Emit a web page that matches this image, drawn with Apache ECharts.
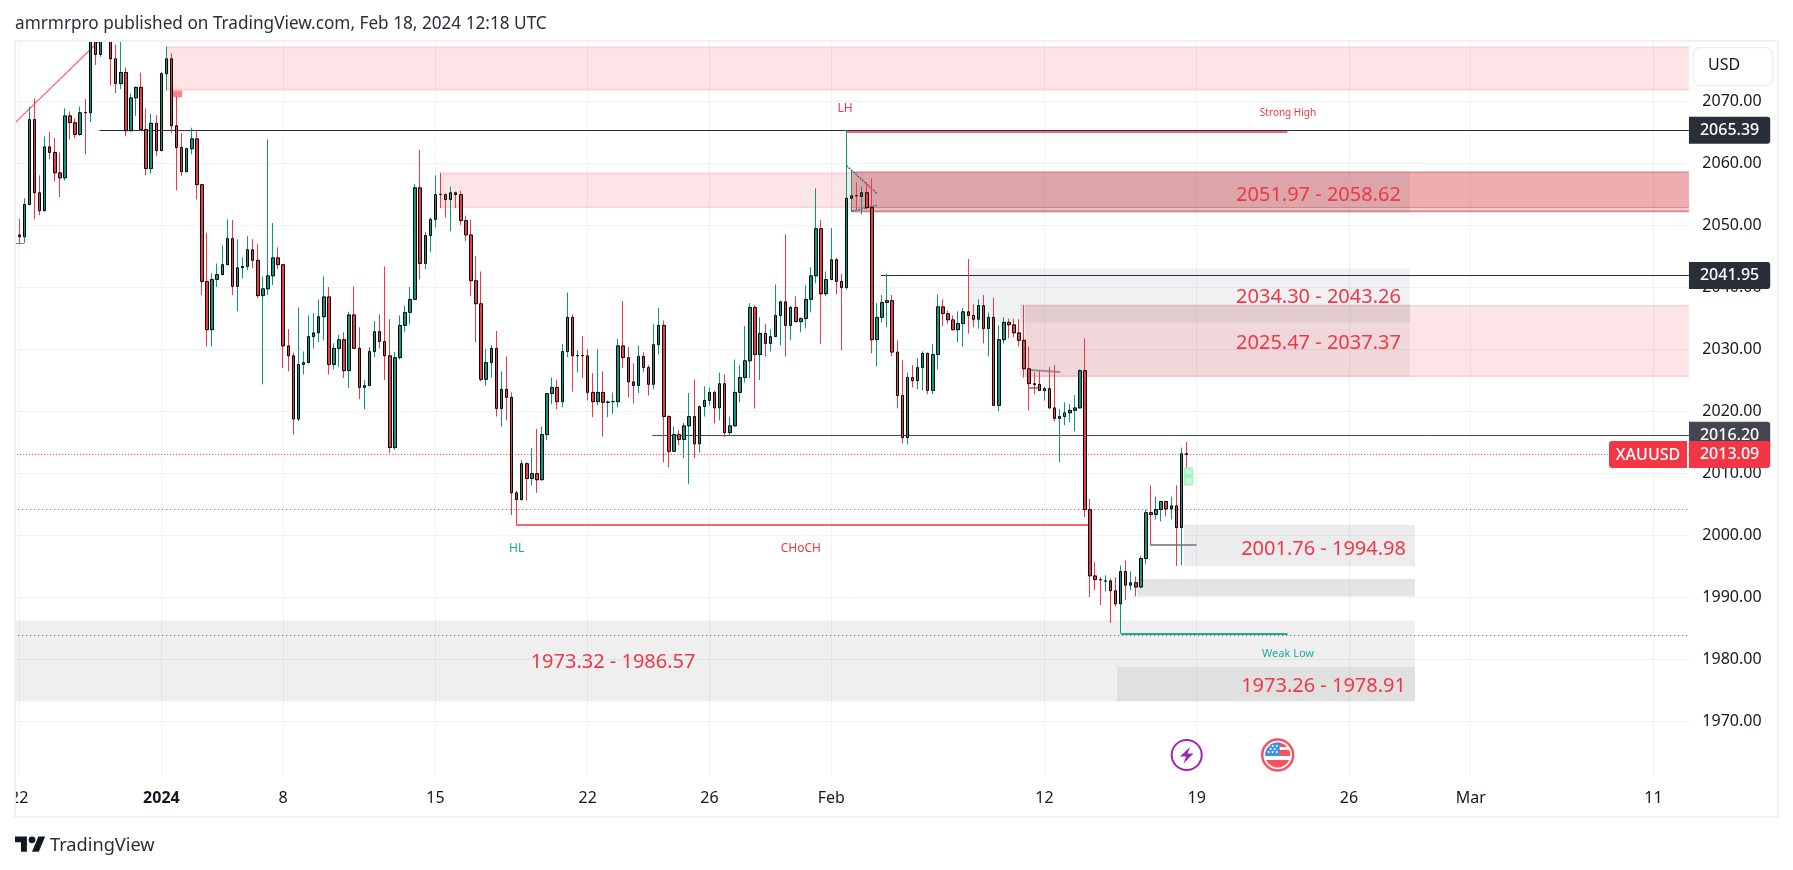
<!DOCTYPE html>
<html><head><meta charset="utf-8"><title>XAUUSD</title>
<style>html,body{margin:0;padding:0;background:#fff}#c{width:1793px;height:870px}</style>
<script src="https://cdn.jsdelivr.net/npm/echarts@6/dist/echarts.min.js"></script>
</head><body><div id="c"></div><script>
const FONT = '"Noto Sans", sans-serif';
const GREEN = '#089981', RED = '#f23645';

const opens = [
2048.5,2048.2,2053.4,2067.1,2055.3,2052.4,2062.7,2061.8,2058.5,2057.7,
2067.7,2066.6,2064.7,2068.25,2068.2,2083,2077.6,2082,2082,2076.9,
2072.9,2074.7,2065.3,2070.6,2072.3,2065.5,2059.2,2066.5,2062.1,2074.5,
2076.9,2066.1,2062.6,2058.7,2062.4,2064.0,2056.6,2041.0,2033.2,2041.3,
2042.1,2043.7,2047.9,2040.2,2043.2,2043.4,2046.1,2044.4,2038.7,2039.8,
2041.9,2044.8,2043.7,2030.6,2029.0,2018.8,2027.6,2027.9,2032.1,2032.7,
2035.3,2038.5,2027.6,2030.2,2031.6,2026.6,2035.6,2030.2,2023.9,2024.2,
2029.7,2032.9,2031.3,2029.0,2014.2,2028.7,2033.9,2036.0,2038.1,2056.1,
2043.9,2048.4,2051.0,2055.05,2055.0,2054.2,2055.3,2055.0,2050.8,2048.5,
2041.1,2037.4,2025.2,2027.9,2030.2,2020.5,2023.6,2022.3,2006.9,2005.8,
2011.6,2009.2,2010.0,2009.0,2016.3,2022.9,2023.9,2021.6,2029.7,2035.2,
2029.0,2029.05,2029.0,2023.1,2021.6,2023.1,2021.5,2021.6,2021.6,2030.6,
2028.7,2024.8,2024.2,2028.9,2027.1,2024.4,2030.8,2033.9,2019.2,2013.6,
2016.3,2015.5,2017.7,2019.2,2014.8,2020.8,2021.8,2023.1,2020.6,2024.5,
2016.6,2017.7,2023.1,2025.5,2028.2,2036.8,2029.2,2032.6,2031.0,2032.1,
2035.5,2037.7,2033.9,2036.8,2034.5,2035.0,2038.1,2041.9,2049.5,2039.0,
2041.3,2044.5,2041.0,2040.0,2054.4,2054.85,2054.7,2055.3,2052.9,2031.6,
2035.2,2037.6,2037.9,2029.6,2022.6,2015.8,2025.5,2025.0,2027.1,2029.4,
2023.4,2029.2,2036.9,2035.8,2034.8,2033.2,2034.2,2036.1,2035.5,2034.9,
2037.1,2033.4,2035.2,2021.0,2031.6,2034.4,2034.0,2032.7,2031.5,2026.9,
2024.5,2024.4,2023.4,2023.7,2020.6,2018.9,2019.2,2019.8,2020.2,2020.6,
2026.6,2004.2,1993.5,1992.9,1992.65,1992.7,1991.1,1989.0,1994.2,1992.0,
1992.4,1991.7,1996.3,2003.7,2003.4,2004.2,2005.5,2004.3,2004.8,2001.3,2013.2];
const closes = [
2048.2,2053.4,2067.1,2055.3,2052.4,2062.7,2061.8,2058.5,2057.7,2067.7,
2066.6,2064.7,2068.2,2068.2,2083,2077.6,2082,2084,2076.9,2072.9,
2074.7,2065.3,2070.6,2072.3,2065.5,2059.2,2066.5,2062.1,2074.5,2076.9,
2066.1,2062.6,2058.7,2062.4,2064.0,2056.6,2041.0,2033.2,2041.3,2042.1,
2043.7,2047.9,2040.2,2043.2,2043.4,2046.1,2044.4,2038.7,2039.8,2041.9,
2044.8,2043.7,2030.6,2029.0,2018.8,2027.6,2027.9,2032.1,2032.7,2035.3,
2038.5,2027.6,2030.2,2031.6,2026.6,2035.6,2030.2,2023.9,2024.2,2029.7,
2032.9,2031.3,2029.0,2014.2,2028.7,2033.9,2036.0,2038.1,2056.1,2043.9,
2048.4,2051.0,2055.0,2055.0,2054.2,2055.3,2055.0,2050.8,2048.5,2041.1,
2037.4,2025.2,2027.9,2030.2,2020.5,2023.6,2022.3,2006.9,2005.8,2011.6,
2009.2,2010.0,2009.0,2016.3,2022.9,2023.9,2021.6,2029.7,2035.2,2029.0,
2029.05,2029.0,2023.1,2021.6,2023.1,2021.5,2021.55,2021.65,2030.6,2028.7,
2024.8,2024.2,2028.9,2027.1,2024.4,2030.8,2033.9,2019.2,2013.6,2016.3,
2015.5,2017.7,2019.2,2014.8,2020.8,2021.8,2023.1,2020.6,2024.5,2016.6,
2017.7,2023.1,2025.5,2028.2,2036.8,2029.2,2032.6,2031.0,2032.1,2035.5,
2037.7,2033.9,2036.8,2034.5,2035.0,2038.1,2041.9,2049.5,2039.0,2041.3,
2044.5,2041.0,2040.0,2054.4,2054.8,2054.8,2055.3,2052.9,2031.6,2035.2,
2037.6,2037.9,2029.6,2022.6,2015.8,2025.5,2025.0,2027.1,2029.4,2023.4,
2029.2,2036.9,2035.8,2034.8,2033.2,2034.2,2036.1,2035.5,2034.9,2037.1,
2033.4,2035.2,2021.0,2031.6,2034.4,2034.0,2032.7,2031.5,2026.9,2024.5,
2024.35,2023.4,2023.7,2020.6,2018.9,2019.2,2019.8,2020.2,2020.6,2026.6,
2004.2,1993.5,1992.9,1992.85,1992.7,1991.1,1989.0,1994.2,1992.0,1992.4,
1991.7,1996.3,2003.7,2003.4,2004.2,2005.5,2004.3,2004.8,2001.3,2013.2,2013.09];
const lows = [
2047.1,2047.2,2053.3,2051.0,2051.7,2052.3,2060.7,2057.1,2054.6,2057.3,
2063.9,2064.1,2064.5,2061.5,2066.7,2075.9,2077.2,2080.5,2072.6,2071.4,
2072.0,2064.4,2065.2,2067.7,2065.3,2058.1,2058.4,2061.2,2062.0,2071.8,
2064.9,2055.7,2058.0,2058.6,2061.5,2054.2,2038.8,2030.5,2030.5,2040.1,
2042.0,2043.6,2038.8,2036.2,2041.5,2042.8,2043.2,2038.3,2024.4,2038.8,
2040.4,2043.0,2027.0,2026.5,2016.3,2018.5,2026.0,2027.8,2030.2,2031.2,
2031.5,2026.0,2026.8,2027.2,2025.4,2023.8,2030.1,2022.0,2020.4,2024.1,
2028.8,2030.2,2025.1,2013.3,2013.8,2028.4,2032.8,2034.1,2038.0,2041.3,
2043.0,2045.7,2049.7,2052.8,2051.3,2049.1,2052.8,2050.1,2047.5,2038.6,
2031.2,2024.9,2024.2,2025.5,2019.2,2017.6,2018.6,2003.3,2001.8,2005.7,
2005.7,2008.1,2006.9,2008.9,2015.4,2021.2,2020.4,2020.7,2028.8,2023.2,
2026.3,2025.4,2021.8,2019.1,2021.0,2016.0,2019.1,2019.6,2020.7,2027.0,
2022.3,2021.3,2023.0,2026.4,2022.6,2023.6,2029.2,2011.8,2011.0,2013.5,
2014.6,2012.5,2008.3,2012.5,2013.4,2019.2,2021.0,2018.1,2018.6,2015.9,
2016.1,2017.6,2021.5,2024.7,2025.4,2020.5,2025.1,2028.9,2029.7,2032.0,
2030.7,2028.9,2031.5,2034.4,2032.8,2033.4,2036.0,2040.7,2030.9,2038.6,
2041.2,2038.9,2029.9,2039.7,2052.2,2052.6,2051.8,2052.6,2029.4,2027.3,
2034.4,2033.6,2028.9,2020.5,2014.9,2014.7,2023.9,2023.6,2023.4,2022.8,
2022.8,2026.8,2033.8,2034.2,2033.1,2031.2,2030.5,2032.6,2033.6,2033.4,
2031.0,2028.9,2020.9,2020.1,2031.0,2031.8,2032.0,2030.5,2025.5,2020.2,
2022.8,2023.3,2021.8,2020.4,2018.4,2011.8,2017.8,2018.3,2016.8,2020.5,
2003.0,1990.1,1991.2,1988.8,1991.0,1985.9,1988.6,1984.2,1989.6,1991.2,
1990.2,1991.5,1995.4,1998.4,2002.6,2002.3,2003.1,2002.6,1995.1,1995.2,2011.0];
const highs = [
2051.1,2054.4,2069.2,2070.5,2058.1,2064.4,2065.1,2064.1,2061.8,2068.9,
2068.4,2067.3,2069.2,2070.4,2085,2085,2084,2086,2084,2079.2,
2081,2075.5,2071.3,2072.4,2074.7,2068.9,2068.1,2067.8,2074.8,2078.9,
2077.8,2070.8,2064.9,2062.6,2065.8,2065.4,2056.7,2048.8,2042.3,2043.9,
2046.8,2051.0,2050.9,2047.8,2044.9,2048.3,2047.8,2047.0,2041.8,2063.9,
2050.4,2046.5,2043.8,2033.3,2029.5,2036.8,2029.7,2035.5,2035.9,2038.1,
2041.8,2040.1,2031.0,2032.4,2032.8,2036.1,2040.2,2033.6,2025.1,2030.4,
2034.6,2035.7,2043.4,2034.9,2029.6,2035.5,2037.1,2040.1,2056.7,2062.2,
2049.0,2051.3,2058.1,2058.5,2055.2,2056.3,2055.5,2055.6,2051.6,2050.9,
2045.1,2042.6,2030.1,2030.7,2033.0,2026.5,2028.9,2023.1,2007.2,2012.2,
2011.8,2014.1,2017.2,2017.6,2023.0,2025.5,2025.1,2030.9,2039.2,2035.7,
2029.9,2032.2,2030.1,2026.2,2030.1,2026.5,2021.8,2023.1,2031.7,2037.8,
2030.4,2027.8,2030.7,2029.6,2027.5,2034.1,2036.7,2034.7,2019.4,2017.6,
2017.0,2018.2,2023.0,2025.2,2021.0,2024.1,2023.9,2023.4,2026.3,2026.0,
2019.2,2028.4,2027.5,2033.8,2037.5,2037.2,2035.2,2034.1,2033.3,2040.5,
2037.9,2048.6,2037.0,2038.6,2035.2,2040.4,2043.3,2056.0,2050.9,2042.6,
2049.6,2044.8,2042.2,2065.39,2058.9,2057.0,2056.3,2057.0,2057.6,2037.5,
2038.8,2042.2,2038.8,2031.5,2028.3,2026.3,2027.5,2028.6,2029.7,2029.5,
2030.9,2038.9,2038.1,2036.3,2035.5,2036.2,2036.7,2044.6,2037.3,2038.1,
2038.8,2036.0,2038.4,2033.9,2035.2,2035.0,2035.0,2034.9,2037.2,2030.5,
2026.3,2026.6,2024.0,2027.2,2027.5,2020.4,2021.5,2021.2,2022.7,2026.8,
2031.8,2005.9,1995.7,1993.3,1993.6,1993.1,1993.3,1995.2,1996.0,1994.2,
1993.4,1996.7,2004.2,2008.1,2006.3,2005.6,2005.6,2006.3,2008.1,2014.2,2015.1];

// x axis: bar slots, tick labels at given slots
const slotCount = 331;
const tickSlots  = [1,29,53,83,113,137,161,203,233,263,287,323];
const tickLabels = ['22','2024','8','15','22','26','Feb','12','19','26','Mar','11'];
const categories = Array.from({length: slotCount}, (_, i) => { const k = tickSlots.indexOf(i); return k >= 0 ? tickLabels[k] : ''; });

// Price-level annotations
const LAST = 330;
const zoneStart = [30.1,31.2,83.9,165.1,165.1,165.1,165.1,165.1,165.1,188.3,198.2,199.2,230.5,221.3,0,217.3,230.5,230.8,230.8];
const zoneEnd   = [LAST,33.1,165.1,LAST,LAST,LAST,LAST,LAST,275,275,275,LAST,276,276,276,276,232.3,232,232];
const zoneHigh  = [2078.9,2071.8,2058.55,2058.71,2058.45,2053.05,2052.84,2052.47,2058.7,2043.1,2037.3,2037.2,2001.7,1993.0,1986.3,1978.8,2011.0,2010.7,2009.3];
const zoneLow   = [2071.8,2070.7,2052.84,2058.45,2053.05,2052.84,2052.47,2052.15,2052.1,2034.4,2025.6,2025.6,1995.1,1990.2,1973.3,1973.3,2008.1,2009.9,2008.4];
const zoneKind  = ['pink','salmon','pink','edge','main','edge','strip','edge','grayA','grayB','grayC','pink','grayD','grayE','grayF','grayF','mint','mintIn','mintIn'];
const zoneStyle = {
  pink:'rgba(242,54,69,0.13)', salmon:'rgba(255,120,126,0.9)', edge:'rgba(200,40,50,0.55)', main:'rgba(215,60,70,0.42)',
  strip:'rgba(242,110,120,0.34)', grayA:'rgba(120,123,134,0.15)', grayB:'rgba(120,123,134,0.11)', grayC:'rgba(120,123,134,0.12)',
  grayD:'rgba(120,123,134,0.14)', grayE:'rgba(107,107,115,0.18)', grayF:'rgba(110,110,110,0.11)', mint:'#9ff7bd', mintIn:'#c6f9d6'
};
const PINK_EDGE = 0.3;

const lineX1 = [16.8,170.8,125.7,164.1,98.9,218.1,224,0,0.25,0.25,164,165.1,200.2,199.8,0,0,0];
const lineY1 = [2065.39,2041.95,2016.20,2065.2,2001.75,1984.15,1998.5,2066.45,2048.6,2047.2,2059.68,2052.35,2026.7,2023.9,2013.09,2004.2,1984.0];
const lineX2 = [LAST,LAST,LAST,250.9,211.8,250.9,233,16.9,0.25,1.93,170,170,206.1,201.7,LAST,LAST,LAST];
const lineY2 = [2065.39,2041.95,2016.20,2065.2,2001.75,1984.15,1998.5,2079.9,2045.6,2047.2,2055.16,2053.27,2026.4,2023.9,2013.09,2004.2,1984.0];
const lineKind = ['black','black','slate','red','red2','teal','grayThick','diag','thin','thin','tri','tri','grayThick','grayThick','dotRed','dotDark','dotDark'];
const lineStyle = {
  black:{color:'#2a2e39',width:1,type:'solid'}, slate:{color:'#434651',width:1,type:'solid'}, red:{color:RED,width:1.5,type:'solid'}, red2:{color:RED,width:1.5,type:'solid'},
  teal:{color:'#22ab94',width:2,type:'solid'}, grayThick:{color:'#8f929b',width:2,type:'solid'}, diag:{color:RED,width:1.3,opacity:0.75,type:'solid'},
  thin:{color:'#787b86',width:1,type:'solid'}, tri:{color:'#5d606b',width:1.5,type:[2,1]},
  dotRed:{color:RED,width:1,type:[1,2]}, dotDark:{color:'#50535e',width:1,type:[1,3]}
};
const priceTags = ['2065.39','2041.95','2016.20','2013.09'];
const tagColors = ['#2a2e39','#2a2e39','#434651',RED];

const noteText  = ['LH','Strong High','HL','CHoCH','Weak Low','2051.97 - 2058.62','2034.30 - 2043.26','2025.47 - 2037.37','2001.76 - 1994.98','1973.26 - 1978.91','1973.32 - 1986.57'];
const noteX     = [163.7,251,99,155,251,257,257,257,258,258,118];
const notePrice = [2068.85,2068.15,1997.85,1997.85,1980.85,2054.85,2038.4,2031.05,1997.85,1975.75,1979.55];
const noteSize  = [12,10,12,12,11,20,20,20,20,20,20];
const noteColor = [RED,RED,'#22ab94',RED,'#22ab94',RED,RED,RED,RED,RED,RED];

// Marker data built from the lists above
const areaData = [];
zoneStart.forEach((s, i) => {
  const color = zoneStyle[zoneKind[i]];
  areaData.push([{coord:[s, zoneHigh[i]], itemStyle:{color}}, {coord:[zoneEnd[i], zoneLow[i]]}]);
  if (zoneKind[i] === 'pink') {
    areaData.push([{coord:[s, zoneHigh[i]], itemStyle:{color:'rgba(242,54,69,0.1)'}}, {coord:[zoneEnd[i], zoneHigh[i]-PINK_EDGE]}]);
    areaData.push([{coord:[s, zoneLow[i]+PINK_EDGE], itemStyle:{color:'rgba(242,54,69,0.1)'}}, {coord:[zoneEnd[i], zoneLow[i]]}]);
  }
});
const lineData = lineX1.map((x, i) => {
  const st = lineStyle[lineKind[i]];
  return [{coord:[x, lineY1[i]], lineStyle:st}, {coord:[lineX2[i], lineY2[i]]}];
});
const tagLineData = priceTags.map((t, i) => [
  {coord:[LAST-1, +t], lineStyle:{color:'rgba(0,0,0,0)',type:'solid'}, label:{show:true, position:'end', distance:0, formatter:t, color:'#fff',
    backgroundColor:tagColors[i], fontFamily:FONT, fontSize:16, fontWeight:500, padding:[5,11,5,11], lineHeight:17,
    borderRadius:[0,3,3,0]}},
  {coord:[LAST, +t]}
]);
const noteData = noteText.map((t, i) => ({coord:[noteX[i], notePrice[i]], value:t, symbolSize:0,
  label:{show:true, position:'inside', formatter:t, color:noteColor[i], fontSize:noteSize[i], fontFamily:FONT, align:'center', verticalAlign:'middle'}}));

const flagSvg = '<svg xmlns="http://www.w3.org/2000/svg" width="34" height="34"><defs><clipPath id="k"><circle cx="17" cy="17" r="12.5"/></clipPath></defs><circle cx="17" cy="17" r="15.5" fill="#fff" stroke="#f7525f" stroke-width="2.5"/><g clip-path="url(#k)"><rect y="4" width="34" height="5" fill="#f7525f"/><rect y="12" width="34" height="6" fill="#f7525f"/><rect y="22" width="34" height="9" fill="#f7525f"/><rect y="4" width="19" height="14" fill="#3d92e8"/><g fill="#fff"><circle cx="8" cy="8" r="1"/><circle cx="12" cy="8" r="1"/><circle cx="16" cy="8" r="1"/><circle cx="10" cy="11" r="1"/><circle cx="14" cy="11" r="1"/><circle cx="8" cy="14" r="1"/><circle cx="12" cy="14" r="1"/><circle cx="16" cy="14" r="1"/></g></g></svg>';

const EMPTY = ['-','-','-','-'];
const chart = echarts.init(document.getElementById('c'), null, {renderer:'canvas'});
chart.setOption({
  animation:false,
  backgroundColor:'#fff',
  grid:{left:14.2, top:39.6, width:1674.75, height:744},
  xAxis:[
    {type:'category', data:categories, boundaryGap:false, axisLine:{show:false}, axisTick:{show:false},
     axisLabel:{interval:(i)=>tickSlots.includes(i), hideOverlap:false, margin:7, fontFamily:FONT, fontSize:16, color:'#131722',
       formatter:(v)=> v==='2024' ? '{b|2024}' : v, rich:{b:{fontWeight:'bold', fontSize:16, fontFamily:FONT, color:'#131722'}}},
     splitLine:{show:true, interval:(i)=>tickSlots.includes(i), lineStyle:{color:'#f1f2f4', width:1}}},
    {type:'value', min:0, max:LAST, show:false, splitLine:{show:false}}
  ],
  yAxis:{type:'value', position:'right', min:1960, max:2080, interval:10, scale:true,
    axisLine:{show:false}, axisTick:{show:false},
    axisLabel:{margin:43, align:'center', padding:[3,0,0,0], fontFamily:FONT, fontSize:16, color:'#131722',
      formatter:(v)=> (v===1960||v===2080) ? '' : v.toFixed(2)},
    splitLine:{show:true, lineStyle:{color:'#f1f2f4', width:1}}},
  series:[
    {type:'line', xAxisIndex:1, yAxisIndex:0, data:[], silent:true, z:1,
     markArea:{silent:true, z:1, data:areaData},
     markLine:{silent:true, z:1, symbol:'none', animation:false, label:{show:false}, data:lineData.concat(tagLineData)},
     markPoint:{silent:true, z:6, symbol:'circle', symbolSize:0, data:noteData}},
    {type:'candlestick', name:'wick', z:2, barWidth:1, silent:true,
     data:[EMPTY].concat(opens.map((o,i)=>[o, closes[i], lows[i], highs[i]])),
     itemStyle:{color:GREEN, color0:RED, borderColor:GREEN, borderColor0:RED, borderWidth:1}},
    {type:'candlestick', name:'body', z:3, barWidth:3, silent:true,
     data:[EMPTY].concat(opens.map((o,i)=>[o, closes[i], Math.min(o,closes[i]), Math.max(o,closes[i])])),
     itemStyle:{color:GREEN, color0:RED, borderColor:'#000', borderColor0:'#000', borderWidth:1}}
  ],
  graphic:[
    {type:'rect', z:50, shape:{x:0,y:776,width:1793,height:8}, style:{fill:'#fff'}},
    {type:'rect', z:50, shape:{x:0,y:0,width:1793,height:40}, style:{fill:'#fff'}},
    {type:'rect', z:50, shape:{x:0,y:784,width:14,height:30}, style:{fill:'#fff'}},
    {type:'rect', z:51, shape:{x:15,y:41,width:1763,height:776}, style:{fill:'none', stroke:'#f0f0f5', lineWidth:2}},
    {type:'rect', z:52, shape:{x:1693.5,y:47.5,width:79,height:38,r:6}, style:{fill:'#fff', stroke:'#eeeef4', lineWidth:1.5}},
    {type:'text', z:53, style:{x:1708,y:65,text:'USD',fontFamily:FONT,fontSize:16,fill:'#131722',verticalAlign:'middle'}},
    {type:'rect', z:53, shape:{x:1609,y:441,width:78,height:27,r:[3,0,0,3]}, style:{fill:RED}},
    {type:'text', z:54, style:{x:1648,y:455,text:'XAUUSD',fontFamily:FONT,fontSize:16,fontWeight:500,fill:'#fff',align:'center',verticalAlign:'middle'}},
    {type:'text', z:53, style:{x:15,y:24,text:'amrmrpro published on TradingView.com, Feb 18, 2024 12:18 UTC',fontFamily:FONT,fontSize:17.2,fill:'#2a2e39',verticalAlign:'middle'}},
    {type:'polygon', z:53, position:[15,833], scaleX:0.85, scaleY:0.85, shape:{points:[[0,4],[14,4],[14,22],[7,22],[7,11],[0,11]]}, style:{fill:'#131722'}},
    {type:'polygon', z:53, position:[15,833], scaleX:0.85, scaleY:0.85, shape:{points:[[20,22],[27.5,4],[35.5,4],[28,22]]}, style:{fill:'#131722'}},
    {type:'circle', z:53, shape:{cx:32,cy:839.8,r:3.4}, style:{fill:'#131722'}},
    {type:'text', z:53, style:{x:50,y:845.5,text:'TradingView',fontFamily:FONT,fontSize:18.2,fill:'#2a2e39',verticalAlign:'middle'}},
    {type:'circle', z:53, shape:{cx:1186.7,cy:755,r:15}, style:{fill:'#fff', stroke:'#9c27b0', lineWidth:2}},
    {type:'polygon', z:54, shape:{points:[[1190,747],[1180,756.5],[1186,756.5],[1183.5,763.5],[1193.5,753.5],[1187.5,753.5]]}, style:{fill:'#9c27b0'}},
    {type:'image', z:53, style:{image:'data:image/svg+xml;charset=utf-8,'+encodeURIComponent(flagSvg), x:1260.7, y:738, width:34, height:34}}
  ]
});
</script></body></html>
